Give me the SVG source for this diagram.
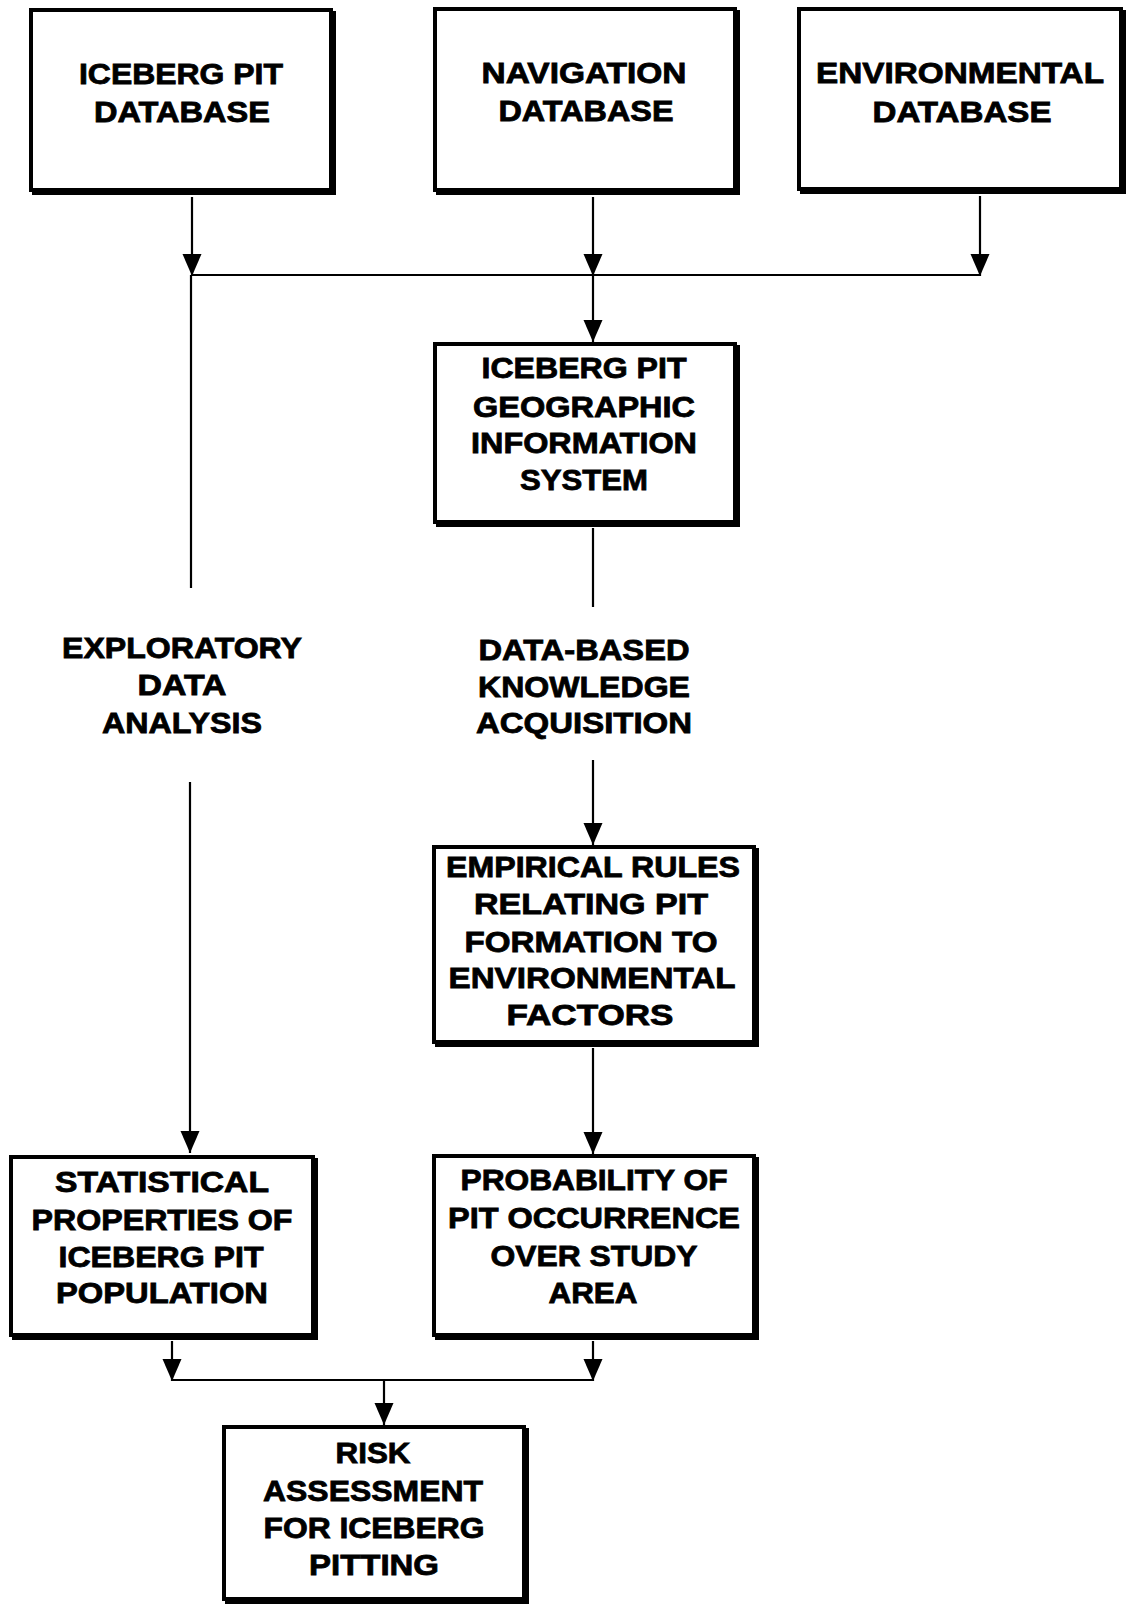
<svg xmlns="http://www.w3.org/2000/svg" width="1128" height="1605" viewBox="0 0 1128 1605">
<style>
.box{fill:#fff;stroke:#000;stroke-width:4}
.sh{fill:#000;stroke:#000;stroke-width:4}
.t{font-family:"Liberation Sans",Arial,sans-serif;font-weight:bold;font-size:29px;fill:#000;stroke:#000;stroke-width:0.8;text-anchor:middle}
.c{fill:none;stroke:#000;stroke-width:2.2}
.a{marker-end:url(#ah)}
</style>
<defs>
<marker id="ah" markerUnits="userSpaceOnUse" markerWidth="22" markerHeight="20" refX="22" refY="10" orient="auto">
<path d="M0,0.5 L22,10 L0,19.5 z" fill="#000"/>
</marker>
</defs>
<rect width="1128" height="1605" fill="#fff"/>
<g id="connectors">
<line class="c a" x1="192" y1="197" x2="192" y2="276"/>
<line class="c a" x1="593" y1="197" x2="593" y2="276"/>
<line class="c a" x1="980" y1="196" x2="980" y2="276"/>
<line class="c" x1="191" y1="275" x2="981" y2="275"/>
<line class="c a" x1="593" y1="275" x2="593" y2="342"/>
<line class="c" x1="191" y1="275" x2="191" y2="588"/>
<line class="c a" x1="190" y1="782" x2="190" y2="1153"/>
<line class="c" x1="593" y1="528" x2="593" y2="607"/>
<line class="c a" x1="593" y1="760" x2="593" y2="845"/>
<line class="c a" x1="593" y1="1048" x2="593" y2="1154"/>
<line class="c a" x1="172" y1="1341" x2="172" y2="1381"/>
<line class="c a" x1="593" y1="1341" x2="593" y2="1381"/>
<line class="c" x1="171" y1="1380" x2="594" y2="1380"/>
<line class="c a" x1="384" y1="1380" x2="384" y2="1425"/>
</g>
<g id="iceberg-pit-database">
<rect class="sh" x="34" y="13" width="300" height="180"/>
<rect class="box" x="31" y="10" width="300" height="180"/>
<text class="t" x="181" y="84" textLength="204" lengthAdjust="spacingAndGlyphs">ICEBERG PIT</text>
<text class="t" x="182" y="122" textLength="176" lengthAdjust="spacingAndGlyphs">DATABASE</text>
</g>
<g id="navigation-database">
<rect class="sh" x="438" y="12" width="300" height="181"/>
<rect class="box" x="435" y="9" width="300" height="181"/>
<text class="t" x="584" y="83" textLength="205" lengthAdjust="spacingAndGlyphs">NAVIGATION</text>
<text class="t" x="586" y="121" textLength="175" lengthAdjust="spacingAndGlyphs">DATABASE</text>
</g>
<g id="environmental-database">
<rect class="sh" x="802" y="12" width="322" height="180"/>
<rect class="box" x="799" y="9" width="322" height="180"/>
<text class="t" x="960" y="83" textLength="288" lengthAdjust="spacingAndGlyphs">ENVIRONMENTAL</text>
<text class="t" x="962" y="122" textLength="179" lengthAdjust="spacingAndGlyphs">DATABASE</text>
</g>
<g id="gis">
<rect class="sh" x="438" y="347" width="300" height="178"/>
<rect class="box" x="435" y="344" width="300" height="178"/>
<text class="t" x="584" y="378" textLength="205" lengthAdjust="spacingAndGlyphs">ICEBERG PIT</text>
<text class="t" x="584" y="417" textLength="222" lengthAdjust="spacingAndGlyphs">GEOGRAPHIC</text>
<text class="t" x="584" y="453" textLength="226" lengthAdjust="spacingAndGlyphs">INFORMATION</text>
<text class="t" x="584" y="490" textLength="128" lengthAdjust="spacingAndGlyphs">SYSTEM</text>
</g>
<g id="exploratory-label">
<text class="t" x="182" y="658" textLength="240" lengthAdjust="spacingAndGlyphs">EXPLORATORY</text>
<text class="t" x="182" y="695" textLength="89" lengthAdjust="spacingAndGlyphs">DATA</text>
<text class="t" x="182" y="733" textLength="160" lengthAdjust="spacingAndGlyphs">ANALYSIS</text>
</g>
<g id="knowledge-label">
<text class="t" x="584" y="660" textLength="211" lengthAdjust="spacingAndGlyphs">DATA-BASED</text>
<text class="t" x="584" y="697" textLength="212" lengthAdjust="spacingAndGlyphs">KNOWLEDGE</text>
<text class="t" x="584" y="733" textLength="216" lengthAdjust="spacingAndGlyphs">ACQUISITION</text>
</g>
<g id="empirical-rules">
<rect class="sh" x="437" y="850" width="320" height="195"/>
<rect class="box" x="434" y="847" width="320" height="195"/>
<text class="t" x="593" y="877" textLength="294" lengthAdjust="spacingAndGlyphs">EMPIRICAL RULES</text>
<text class="t" x="591" y="914" textLength="234" lengthAdjust="spacingAndGlyphs">RELATING PIT</text>
<text class="t" x="591" y="952" textLength="253" lengthAdjust="spacingAndGlyphs">FORMATION TO</text>
<text class="t" x="592" y="988" textLength="287" lengthAdjust="spacingAndGlyphs">ENVIRONMENTAL</text>
<text class="t" x="590" y="1025" textLength="167" lengthAdjust="spacingAndGlyphs">FACTORS</text>
</g>
<g id="statistical-properties">
<rect class="sh" x="14" y="1160" width="302" height="178"/>
<rect class="box" x="11" y="1157" width="302" height="178"/>
<text class="t" x="162" y="1192" textLength="214" lengthAdjust="spacingAndGlyphs">STATISTICAL</text>
<text class="t" x="162" y="1230" textLength="261" lengthAdjust="spacingAndGlyphs">PROPERTIES OF</text>
<text class="t" x="161" y="1267" textLength="205" lengthAdjust="spacingAndGlyphs">ICEBERG PIT</text>
<text class="t" x="162" y="1303" textLength="212" lengthAdjust="spacingAndGlyphs">POPULATION</text>
</g>
<g id="probability">
<rect class="sh" x="437" y="1159" width="320" height="179"/>
<rect class="box" x="434" y="1156" width="320" height="179"/>
<text class="t" x="594" y="1190" textLength="267" lengthAdjust="spacingAndGlyphs">PROBABILITY OF</text>
<text class="t" x="594" y="1228" textLength="292" lengthAdjust="spacingAndGlyphs">PIT OCCURRENCE</text>
<text class="t" x="594" y="1266" textLength="207" lengthAdjust="spacingAndGlyphs">OVER STUDY</text>
<text class="t" x="593" y="1303" textLength="89" lengthAdjust="spacingAndGlyphs">AREA</text>
</g>
<g id="risk-assessment">
<rect class="sh" x="227" y="1430" width="300" height="172"/>
<rect class="box" x="224" y="1427" width="300" height="172"/>
<text class="t" x="373" y="1463" textLength="75" lengthAdjust="spacingAndGlyphs">RISK</text>
<text class="t" x="373" y="1501" textLength="220" lengthAdjust="spacingAndGlyphs">ASSESSMENT</text>
<text class="t" x="374" y="1538" textLength="221" lengthAdjust="spacingAndGlyphs">FOR ICEBERG</text>
<text class="t" x="374" y="1575" textLength="130" lengthAdjust="spacingAndGlyphs">PITTING</text>
</g>
</svg>
